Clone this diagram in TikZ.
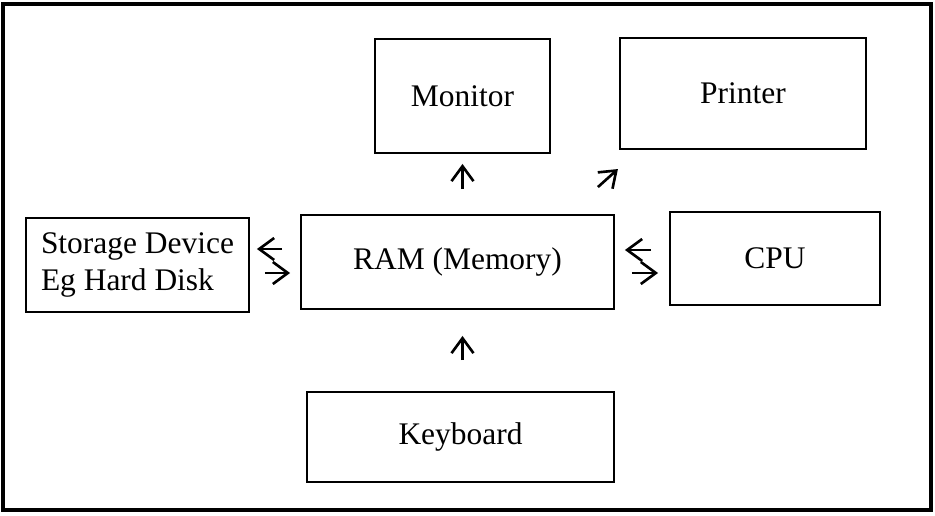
\documentclass[tikz,border=0pt]{standalone}
\usepackage{fontspec}
\setmainfont{Liberation Serif}
\usetikzlibrary{arrows.meta}
\tikzset{
  box/.style={draw, line width=1.1pt, align=left, inner sep=0pt,
    font=\fontsize{17.9pt}{21.5pt}\selectfont},
  arr/.style={-{Straight Barb[length=0.3cm,width=0.44cm]}, line width=1.5pt}
}
\begin{document}
\begin{tikzpicture}[x=0.02cm, y=-0.02cm]
        \useasboundingbox (0,0) rectangle (935,516);
        \draw[line width=2.5pt] (3,4) rectangle (931,510);
        % boxes
        \node[box, minimum width=3.5cm, minimum height=2.28cm] (monitor) at (462.5,96) {Monitor};
        \node[box, minimum width=4.92cm, minimum height=2.22cm] (printer) at (743,93.5) {Printer};
        \node[box, minimum width=4.46cm, minimum height=1.88cm] (storage) at (137.5,265) {Storage Device\\Eg Hard Disk};
        \node[box, minimum width=6.26cm, minimum height=1.88cm] (ram) at (457.5,262) {RAM (Memory)};
        \node[box, minimum width=4.2cm, minimum height=1.86cm] (cpu) at (775,258.5) {CPU};
        \node[box, minimum width=6.14cm, minimum height=1.8cm] (keyboard) at (460.5,437) {Keyboard};
        % arrows
        \draw[arr, shorten <=0.36cm, shorten >=0.14cm] (ram.west |- 0,249) -- (storage.east |- 0,249);
        \draw[arr, shorten <=0.3cm, shorten >=0.2cm] (storage.east |- 0,273) -- (ram.west |- 0,273);
        \draw[arr, shorten <=0.36cm, shorten >=0.2cm] (cpu.west |- 0,250) -- (ram.east |- 0,250);
        \draw[arr, shorten <=0.34cm, shorten >=0.22cm] (ram.east |- 0,273) -- (cpu.west |- 0,273);
        \draw[arr, shorten <=0.5cm, shorten >=0.2cm] (ram.north -| monitor) -- (monitor.south);
        \draw[arr] (ram.north east) ++(-17,-27) -- ++(20,-18);
        \draw[arr, shorten <=0.62cm, shorten >=0.52cm] (keyboard.north -| monitor) -- (ram.south -| monitor);
\end{tikzpicture}
\end{document}
